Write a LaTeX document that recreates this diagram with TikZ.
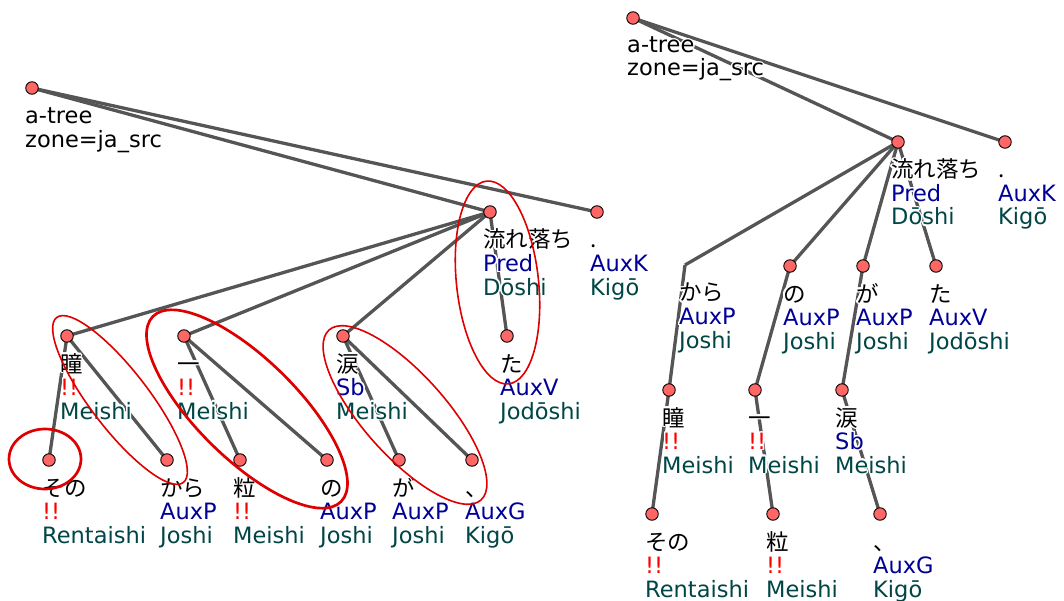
\documentclass[tikz,border=0pt]{standalone}
\usepackage{fontspec}
\setmainfont{DejaVu Sans}
\newfontfamily\jp{Noto Sans CJK JP}
\usepackage[copies]{contour}
\contourlength{1.4pt}
\definecolor{edgegray}{RGB}{85,85,85}
\definecolor{nodefill}{RGB}{255,102,102}
\definecolor{ringred}{RGB}{222,0,0}
\definecolor{afun}{RGB}{0,0,150}
\definecolor{tagc}{RGB}{0,70,70}
\definecolor{bangred}{RGB}{255,0,0}
\pgfdeclarelayer{background}
\pgfdeclarelayer{foreground}
\pgfsetlayers{background,main,foreground}
\tikzset{
  edge/.style={draw=edgegray, line width=3.3pt},
  tnode/.style={circle, draw=black, fill=nodefill, line width=0.9pt, minimum size=12.5pt, inner sep=0pt},
  lab/.style={inner sep=0pt, anchor=base west, font=\fontsize{22.5}{24}\selectfont},
  ring/.style={draw=ringred, line width=1.6pt},
  thickring/.style={draw=ringred, line width=2.7pt},
}
\newcommand\tn[3]{\node[tnode] (#1) at (#2,#3) {};}
\newcommand\af[1]{{\color{afun}\contour{white}{#1}}}
\newcommand\bang{{\color{bangred}\contour{white}{!!}}}
\newcommand\tl[6]{%
  \node[lab] (#1-w) at (#2-7,#3+36) {\jp\contour{white}{#4}};
  \node[lab] (#1-f) at (#2-7,#3+59.5) {#5};
  \node[lab] (#1-t) at (#2-7,#3+83) {\color{tagc}\contour{white}{#6}};
}
\begin{document}
\begin{tikzpicture}[x=1pt,y=-1pt]
\useasboundingbox (0,0) rectangle (1064,601);
% ---------- left tree ----------
\tn{L-root}{32}{88}
\tn{L-pred}{490}{212}
\tn{L-dot}{597}{212}
\tn{L-hitomi}{67}{336}
\tn{L-ichi}{184}{336}
\tn{L-namida}{343}{336}
\tn{L-ta}{507}{336}
\tn{L-sono}{49}{460}
\tn{L-kara}{167}{460}
\tn{L-tsubu}{240}{460}
\tn{L-no}{327}{460}
\tn{L-ga}{399}{460}
\tn{L-ten}{472}{460}
\node[lab] (L-root-a) at (32-7,88+36) {\contour{white}{a-tree}};
\node[lab] (L-root-b) at (32-7,88+59.5) {\contour{white}{zone=ja\_src}};
\tl{L-pred}{490}{212}{流れ落ち}{\af{Pred}}{Dōshi}
\tl{L-dot}{597}{212}{.}{\af{AuxK}}{Kigō}
\tl{L-hitomi}{67}{336}{瞳}{\bang}{Meishi}
\tl{L-ichi}{184}{336}{一}{\bang}{Meishi}
\tl{L-namida}{343}{336}{涙}{\af{Sb}}{Meishi}
\tl{L-ta}{507}{336}{た}{\af{AuxV}}{Jodōshi}
\tl{L-sono}{49}{460}{その}{\bang}{Rentaishi}
\tl{L-kara}{167}{460}{から}{\af{AuxP}}{Joshi}
\tl{L-tsubu}{240}{460}{粒}{\bang}{Meishi}
\tl{L-no}{327}{460}{の}{\af{AuxP}}{Joshi}
\tl{L-ga}{399}{460}{が}{\af{AuxP}}{Joshi}
\tl{L-ten}{472}{460}{、}{\af{AuxG}}{Kigō}
% ---------- right tree ----------
\tn{R-root}{633}{18}
\tn{R-pred}{898}{142}
\tn{R-dot}{1005}{142}
\coordinate (R-kara) at (685,265);
\tn{R-no}{790}{266}
\tn{R-ga}{863}{266}
\tn{R-ta}{936}{266}
\tn{R-hitomi}{669}{390}
\tn{R-ichi}{755}{390}
\tn{R-namida}{842}{390}
\tn{R-sono}{652}{514}
\tn{R-tsubu}{773}{514}
\tn{R-ten}{880}{514}
\node[lab] (R-root-a) at (633-6,18+35) {\contour{white}{a-tree}};
\node[lab] (R-root-b) at (633-6,18+58) {\contour{white}{zone=ja\_src}};
\tl{R-pred}{898}{142}{流れ落ち}{\af{Pred}}{Dōshi}
\tl{R-dot}{1005}{142}{.}{\af{AuxK}}{Kigō}
\tl{R-kara}{686}{265}{から}{\af{AuxP}}{Joshi}
\tl{R-no}{790}{266}{の}{\af{AuxP}}{Joshi}
\tl{R-ga}{863}{266}{が}{\af{AuxP}}{Joshi}
\tl{R-ta}{936}{266}{た}{\af{AuxV}}{Jodōshi}
\tl{R-hitomi}{669}{390}{瞳}{\bang}{Meishi}
\tl{R-ichi}{755}{390}{一}{\bang}{Meishi}
\tl{R-namida}{842}{390}{涙}{\af{Sb}}{Meishi}
\tl{R-sono}{652}{514}{その}{\bang}{Rentaishi}
\tl{R-tsubu}{773}{514}{粒}{\bang}{Meishi}
\tl{R-ten}{880}{514}{、}{\af{AuxG}}{Kigō}
% ---------- edges ----------
\begin{pgfonlayer}{background}
\draw[edge] (L-root.center) -- (L-pred.center);
\draw[edge] (L-root.center) -- (L-dot.center);
\draw[edge] (L-pred.center) -- (L-hitomi.center);
\draw[edge] (L-pred.center) -- (L-ichi.center);
\draw[edge] (L-pred.center) -- (L-namida.center);
\draw[edge] (L-pred.center) -- (L-ta.center);
\draw[edge] (L-hitomi.center) -- (L-sono.center);
\draw[edge] (L-hitomi.center) -- (L-kara.center);
\draw[edge] (L-ichi.center) -- (L-tsubu.center);
\draw[edge] (L-ichi.center) -- (L-no.center);
\draw[edge] (L-namida.center) -- (L-ga.center);
\draw[edge] (L-namida.center) -- (L-ten.center);
\draw[edge] (R-root.center) -- (R-pred.center);
\draw[edge] (R-root.center) -- (R-dot.center);
\draw[edge] (R-pred.center) -- (R-kara);
\draw[edge] (R-pred.center) -- (R-no.center);
\draw[edge] (R-pred.center) -- (R-ga.center);
\draw[edge] (R-pred.center) -- (R-ta.center);
\draw[edge] (R-kara) -- (R-hitomi.center);
\draw[edge] (R-no.center) -- (R-ichi.center);
\draw[edge] (R-ga.center) -- (R-namida.center);
\draw[edge] (R-hitomi.center) -- (R-sono.center);
\draw[edge] (R-ichi.center) -- (R-tsubu.center);
\draw[edge] (R-namida.center) -- (R-ten.center);
\end{pgfonlayer}
% ---------- red rings ----------
\begin{pgfonlayer}{foreground}
\draw[thickring] (45,459) ellipse [x radius=36, y radius=30];
\draw[ring, shift={(120,400)}, rotate=-52.5] (0,0) ellipse [x radius=104, y radius=29];
\draw[thickring, shift={(247,409)}, rotate=-44.5] (0,0) ellipse [x radius=132, y radius=50];
\draw[ring, shift={(405,415)}, rotate=-48.2] (0,0) ellipse [x radius=114, y radius=41];
\draw[ring, shift={(497.5,282.5)}, rotate=-83.8] (0,0) ellipse [x radius=102, y radius=41];
\end{pgfonlayer}
\end{tikzpicture}
\end{document}
